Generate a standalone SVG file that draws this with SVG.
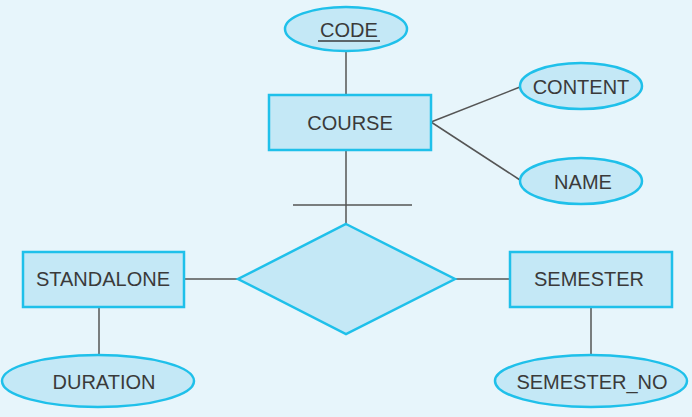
<svg xmlns="http://www.w3.org/2000/svg" width="692" height="417" viewBox="0 0 692 417">
<style>
.shape{fill:#c4e8f6;stroke:#1fc0ea;stroke-width:2.5}
.ln{stroke:#555;stroke-width:1.5;fill:none}
.t{font-family:"Liberation Sans",Arial,sans-serif;font-size:20px;fill:#3a3a3a;text-anchor:middle}
</style>
<rect width="692" height="417" fill="#e7f5fb"/>
<g id="connectors">
<line class="ln" x1="346" y1="51" x2="346" y2="95"/>
<line class="ln" x1="431" y1="122" x2="520" y2="87"/>
<line class="ln" x1="431" y1="122" x2="520" y2="180"/>
<line class="ln" x1="346" y1="150" x2="346" y2="224"/>
<line class="ln" x1="293" y1="205" x2="412" y2="205"/>
<line class="ln" x1="184" y1="279" x2="238" y2="279"/>
<line class="ln" x1="455" y1="279" x2="510" y2="279"/>
<line class="ln" x1="99" y1="307" x2="99" y2="355"/>
<line class="ln" x1="591" y1="307" x2="591" y2="355"/>
</g>
<g id="code">
<ellipse class="shape" cx="346" cy="29" rx="61" ry="22"/>
<text class="t" x="349" y="37">CODE</text>
<line x1="318" y1="41" x2="380" y2="41" stroke="#3a3a3a" stroke-width="1.5"/>
</g>
<g id="course">
<rect class="shape" x="269" y="95" width="162" height="55"/>
<text class="t" x="350" y="129.5">COURSE</text>
</g>
<g id="content">
<ellipse class="shape" cx="581" cy="86" rx="61" ry="23"/>
<text class="t" x="581" y="93.5">CONTENT</text>
</g>
<g id="name">
<ellipse class="shape" cx="581" cy="181" rx="61" ry="23"/>
<text class="t" x="583" y="188.5">NAME</text>
</g>
<g id="relationship">
<polygon class="shape" points="346,224 455,279 346,334 238,279"/>
</g>
<g id="standalone">
<rect class="shape" x="23" y="252" width="161" height="55"/>
<text class="t" x="103" y="286">STANDALONE</text>
</g>
<g id="semester">
<rect class="shape" x="510" y="252" width="162" height="55"/>
<text class="t" x="589" y="286">SEMESTER</text>
</g>
<g id="duration">
<ellipse class="shape" cx="98" cy="381" rx="96" ry="26"/>
<text class="t" x="104" y="388.5">DURATION</text>
</g>
<g id="semester_no">
<ellipse class="shape" cx="591" cy="381" rx="96" ry="26"/>
<text class="t" x="592" y="388.5">SEMESTER_NO</text>
</g>
</svg>
